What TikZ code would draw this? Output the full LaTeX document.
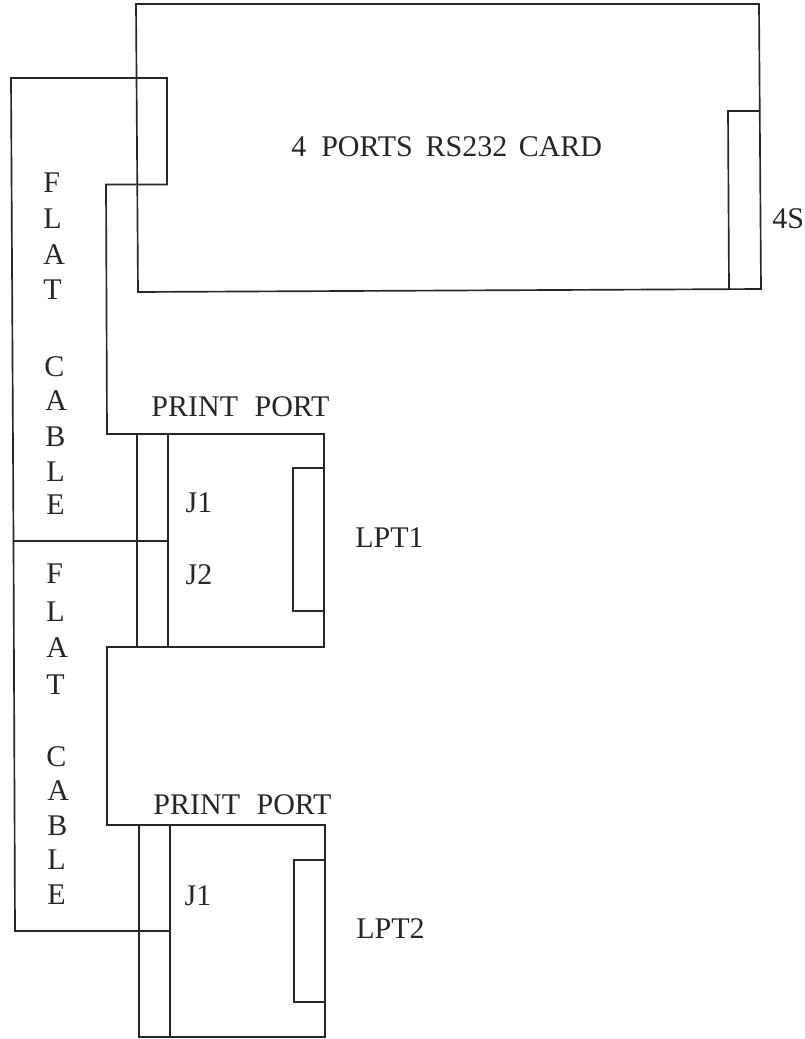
\documentclass[tikz,border=0pt]{standalone}
\usepackage{fontspec}
\setmainfont{Liberation Serif}
\tikzset{wire/.style={draw=black!85,line width=1.25pt,line join=miter},
lbl/.style={inner sep=0pt,font=\fontsize{22.5}{25}\selectfont,text=black!85}}
\begin{document}
\begin{tikzpicture}[x=0.75pt,y=-0.75pt]
\useasboundingbox (0,0) rectangle (805,1039);
% Card
\draw[wire] (136,4) -- (759,4) -- (761,289) -- (138,292) -- cycle;
\draw[wire] (759.7,111) -- (728,111) -- (729,289.5);
% first cable
\draw[wire] (136,78) -- (167,78) -- (167,184.5) -- (106,184.5) -- (107,434) -- (137,434);
\draw[wire] (136,78) -- (11,78) -- (13.5,541) -- (137,541);
% LPT1
\draw[wire] (137,434) -- (137,647) -- (168,647) -- (168,434) -- cycle;
\draw[wire] (168,434) -- (324,434) -- (324,647) -- (168,647);
\draw[wire] (137,541) -- (168,541);
\draw[wire] (324,468) -- (293,468) -- (293,611) -- (324,611);
% second cable
\draw[wire] (13.5,541) -- (15,931) -- (139,931);
\draw[wire] (137,647) -- (107,647) -- (107,825) -- (139,825);
% LPT2
\draw[wire] (139,825) -- (139,1037) -- (170,1037) -- (170,825) -- cycle;
\draw[wire] (170,825) -- (325,825) -- (325,1037) -- (170,1037);
\draw[wire] (139,931) -- (170,931);
\draw[wire] (325,860) -- (294,860) -- (294,1002) -- (325,1002);
% labels
\node[lbl,anchor=west] (card) at (291,147) {4\hspace{0.5em}PORTS\hspace{0.43em}RS232\hspace{0.38em}CARD};
\node[lbl,anchor=west] (s4) at (772,219) {4S};
\foreach \n/\t/\x/\y in {a/F/43/183,b/L/43/219,c/A/43/255,d/T/43/290,e/C/44/367,f/A/45/401,g/B/45/437,h/L/46/472,i/E/46/505}
  \node[lbl,anchor=west] (u\n) at (\x,\y) {\t};
\foreach \n/\t/\x/\y in {a/F/46/574,b/L/46/612,c/A/46/648,d/T/46/685,e/C/46/757,f/A/47/791,g/B/47/826,h/L/47/860,i/E/47/895}
  \node[lbl,anchor=west] (v\n) at (\x,\y) {\t};
\node[lbl] (p1) at (240.5,407) {PRINT\hspace{0.55em}PORT};
\node[lbl] (p2) at (242.5,805) {PRINT\hspace{0.55em}PORT};
\node[lbl] (j1) at (199,503) {J1};
\node[lbl] (j2) at (199,575) {J2};
\node[lbl] (j3) at (198,896) {J1};
\node[lbl,anchor=west] (l1) at (355,538) {LPT1};
\node[lbl,anchor=west] (l2) at (356,929) {LPT2};
\end{tikzpicture}
\end{document}
